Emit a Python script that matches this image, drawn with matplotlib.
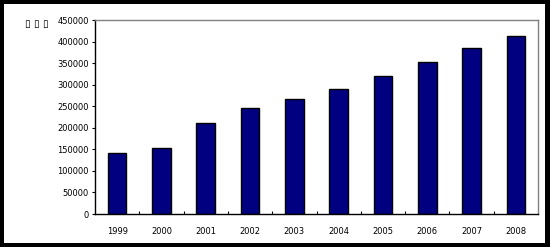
import matplotlib
matplotlib.use("Agg")
import matplotlib.pyplot as plt
from matplotlib.patches import Rectangle
import numpy as np

years = ["1999", "2000", "2001", "2002", "2003", "2004", "2005", "2006", "2007", "2008"]
values = [141500, 152500, 211000, 246000, 267000, 290000, 319500, 352500, 384500, 413000]
y_ticks = [0, 50000, 100000, 150000, 200000, 250000, 300000, 350000, 400000, 450000]
unit_label = "▯ ▯ ▯"

W, H = 550, 247
fig = plt.figure(figsize=(W / 100, H / 100), dpi=100)
fig.patch.set_facecolor("black")
# white inner panel leaves a black frame round the picture
fig.patches.append(Rectangle((4 / W, 4 / H), 541 / W, 239 / H,
                             transform=fig.transFigure, facecolor="white",
                             edgecolor="none", zorder=-10))

ax = fig.add_axes([95 / W, 33 / H, 443 / W, 194 / H])
x = np.arange(len(years))
ax.bar(x, values, width=0.42, color="#000080", edgecolor="black", linewidth=1.0, zorder=2)

ax.set_xlim(-0.5, len(years) - 0.5)
ax.set_ylim(0, 450000)
ax.set_yticks(y_ticks)
ax.set_yticklabels([str(v) for v in y_ticks], fontsize=6)
ax.set_xticks(x)
ax.set_xticklabels(years, fontsize=6)
ax.set_xticks(np.arange(0.5, len(years) - 0.5, 1), minor=True)
ax.tick_params(axis="x", which="major", length=0, pad=9)
ax.tick_params(axis="x", which="minor", direction="in", length=2.5, width=0.8)
ax.tick_params(axis="y", direction="out", length=2.5, width=0.8, pad=2)

for side in ("top", "right"):
    ax.spines[side].set_color("#808080")
    ax.spines[side].set_linewidth(1.0)
for side in ("left", "bottom"):
    ax.spines[side].set_color("black")
    ax.spines[side].set_linewidth(1.0)

fig.text(25 / W, 1 - 23.5 / H, unit_label, fontsize=7.5, va="center", ha="left")

fig.savefig("out.png", dpi=100, facecolor=fig.get_facecolor())
